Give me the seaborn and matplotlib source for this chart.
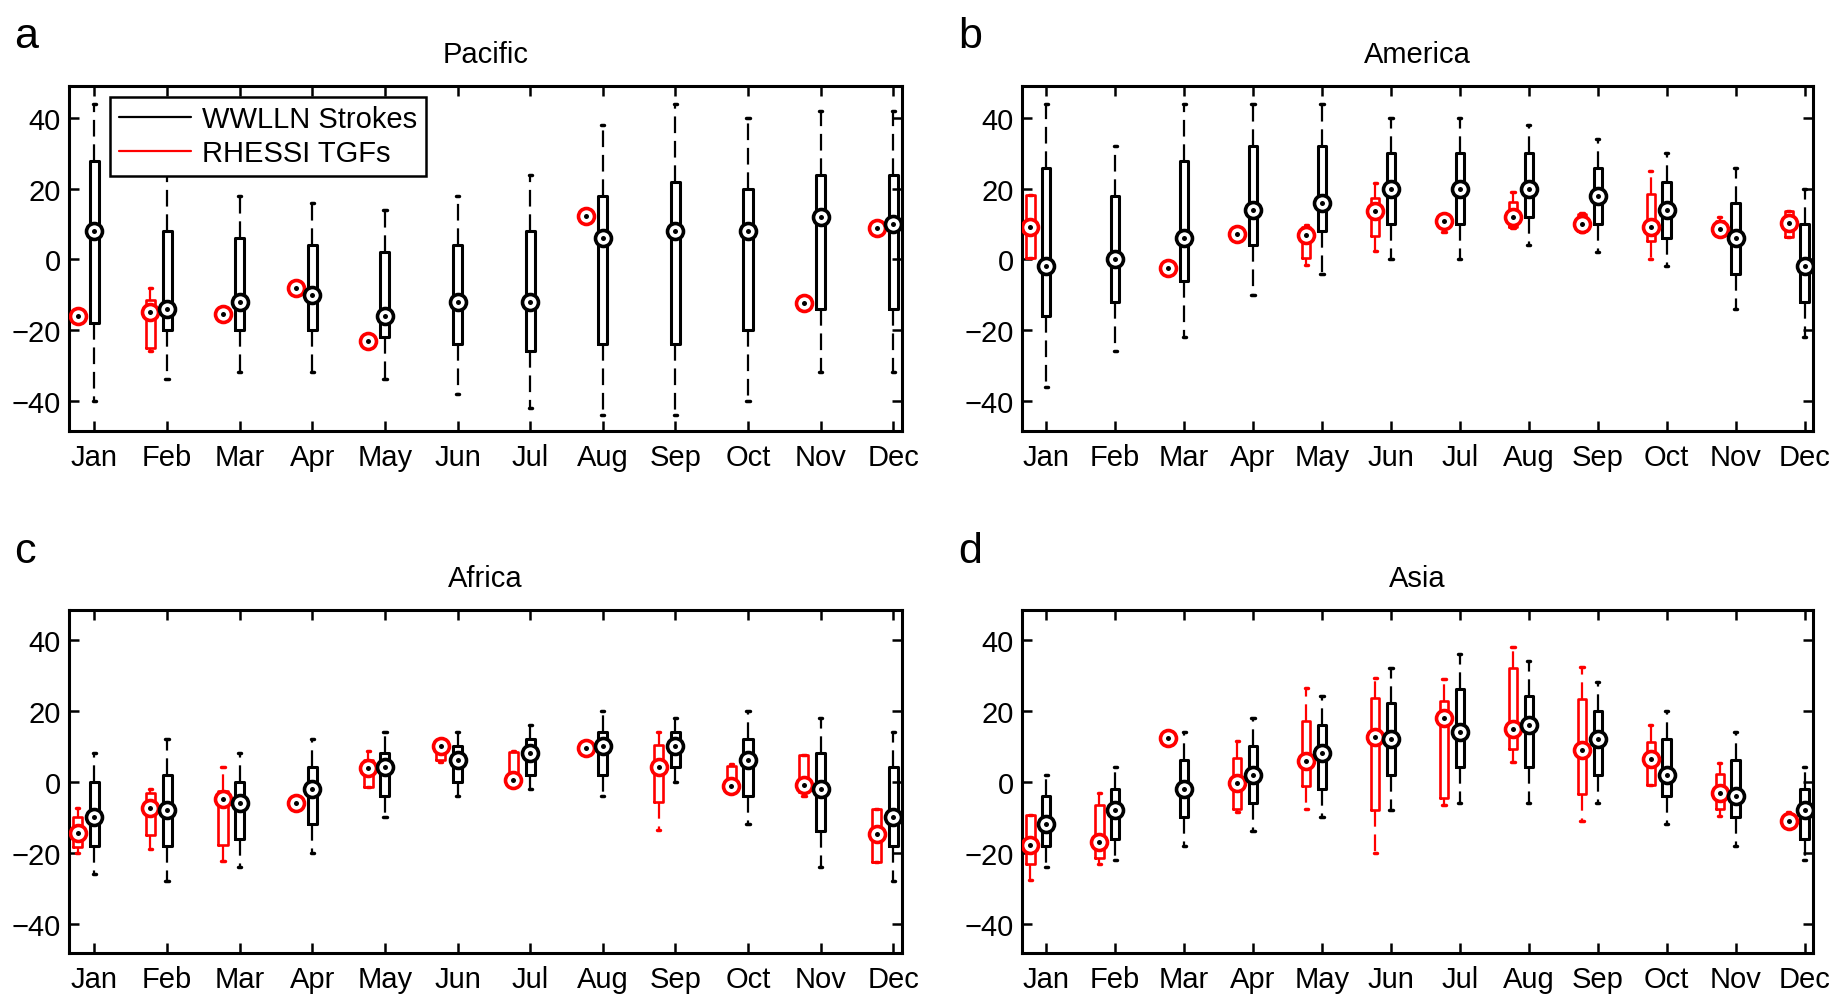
import numpy as np
import matplotlib
matplotlib.use("Agg")
import matplotlib.pyplot as plt
import seaborn as sns
from matplotlib.lines import Line2D

# ---------------- data ----------------
MONTHS = ["Jan", "Feb", "Mar", "Apr", "May", "Jun",
          "Jul", "Aug", "Sep", "Oct", "Nov", "Dec"]
REGIONS = ["Pacific", "America", "Africa", "Asia"]
PANEL_LETTERS = ["a", "b", "c", "d"]
YTICKS = [-40, -20, 0, 20, 40]
SERIES_NAMES = ["WWLLN Strokes", "RHESSI TGFs"]

# each entry: [lower whisker, Q1, median, Q3, upper whisker]; None = no data
PACIFIC_WWLLN = [[-40, -18, 8, 28, 44], [-34, -20, -14, 8, 28], [-32, -20, -12, 6, 18],
                 [-32, -20, -10, 4, 16], [-34, -22, -16, 2, 14], [-38, -24, -12, 4, 18],
                 [-42, -26, -12, 8, 24], [-44, -24, 6, 18, 38], [-44, -24, 8, 22, 44],
                 [-40, -20, 8, 20, 40], [-32, -14, 12, 24, 42], [-32, -14, 10, 24, 42]]
PACIFIC_TGF = [[-16, -16, -16, -16, -16], [-26, -25, -15, -11.5, -8],
               [-17.5, -17, -15.5, -14, -13.5], [-8, -8, -8, -8, -8],
               [-23, -23, -23, -23, -23], None, None, [12.3, 12.3, 12.3, 12.3, 12.3],
               None, None, [-12.3, -12.3, -12.3, -12.3, -12.3], [9, 9, 9, 9, 9]]

AMERICA_WWLLN = [[-36, -16, -2, 26, 44], [-26, -12, 0, 18, 32], [-22, -6, 6, 28, 44],
                 [-10, 4, 14, 32, 44], [-4, 8, 16, 32, 44], [0, 10, 20, 30, 40],
                 [0, 10, 20, 30, 40], [4, 12, 20, 30, 38], [2, 10, 18, 26, 34],
                 [-2, 6, 14, 22, 30], [-14, -4, 6, 16, 26], [-22, -12, -2, 10, 20]]
AMERICA_TGF = [[0.3, 0.3, 9.3, 18.2, 18.2], None, [-2.5, -2.5, -2.5, -2.5, -2.5],
               [7.2, 7.2, 7.2, 7.2, 7.2], [-1.6, 0.3, 6.9, 9.3, 9.7],
               [2.5, 6.6, 13.6, 17.4, 21.7], [7.8, 10.5, 11, 11.5, 11.8],
               [8.8, 9.3, 11.9, 16.2, 19], [7.8, 8, 10, 12.8, 13.2],
               [0, 5.2, 9.1, 18.4, 24.9], [7.8, 8.2, 8.7, 11, 11.9],
               [6.4, 6.4, 10.2, 13.8, 13.8]]

AFRICA_WWLLN = [[-26, -18, -10, 0, 8], [-28, -18, -8, 2, 12], [-24, -16, -6, 0, 8],
                [-20, -12, -2, 4, 12], [-10, -4, 4, 8, 14], [-4, 0, 6, 10, 14],
                [-2, 2, 8, 12, 16], [-4, 2, 10, 14, 20], [0, 4, 10, 14, 18],
                [-12, -4, 6, 12, 20], [-24, -14, -2, 8, 18], [-28, -18, -10, 4, 14]]
AFRICA_TGF = [[-20, -18.3, -14.5, -10, -7.4], [-19, -15, -7.4, -3.3, -2.2],
              [-22.4, -17.7, -5, -2.6, 4.1], [-6, -6, -6, -6, -6],
              [-1.4, -1.4, 3.9, 6, 8.7], [5.5, 6, 10, 10.5, 10.5],
              [0, 0.2, 0.5, 8.3, 8.5], [9.5, 9.5, 9.5, 9.5, 9.5],
              [-13.6, -5.8, 4.2, 10.2, 14], [-1.5, -1.1, -1.1, 4.3, 5],
              [-3.9, -3, -0.8, 7.4, 7.4], [-22.6, -22.6, -14.6, -7.7, -7.7]]

ASIA_WWLLN = [[-24, -18, -12, -4, 2], [-22, -16, -8, -2, 4], [-18, -10, -2, 6, 14],
              [-14, -6, 2, 10, 18], [-10, -2, 8, 16, 24], [-8, 2, 12, 22, 32],
              [-6, 4, 14, 26, 36], [-6, 4, 16, 24, 34], [-6, 2, 12, 20, 28],
              [-12, -4, 2, 12, 20], [-18, -10, -4, 6, 14], [-22, -16, -8, -2, 4]]
ASIA_TGF = [[-27.6, -23.3, -17.7, -9.5, -9.5], [-23.1, -21.5, -17, -6.7, -3.1],
            [12.2, 12.2, 12.2, 12.2, 12.2], [-8.4, -7.7, -0.3, 6.6, 11.4],
            [-7.6, -1.3, 5.9, 17.2, 26.3], [-20, -8, 12.7, 23.5, 29.3],
            [-6.7, -4.6, 17.8, 22.6, 29], [5.5, 9.1, 14.7, 32, 37.9],
            [-11, -3.4, 8.9, 23.3, 32.4], [-0.8, -0.8, 6.3, 11.2, 15.9],
            [-9.6, -7.6, -3.3, 2.3, 5.3], [-11.5, -11.3, -11.1, -10, -8.6]]

WWLLN = [PACIFIC_WWLLN, AMERICA_WWLLN, AFRICA_WWLLN, ASIA_WWLLN]
TGF = [PACIFIC_TGF, AMERICA_TGF, AFRICA_TGF, ASIA_TGF]

# ---------------- style ----------------
sns.set_theme(style="white", rc={
    "axes.edgecolor": "black", "text.color": "black",
    "xtick.color": "black", "ytick.color": "black",
    "axes.labelcolor": "black",
})
plt.rcParams["font.family"] = ["Liberation Sans", "DejaVu Sans"]

FIG_W, FIG_H = 1845, 995
fig = plt.figure(figsize=(FIG_W / 100, FIG_H / 100), dpi=100)

# axes rectangles in pixels: left, top, right, bottom
RECTS = [(69, 87, 902, 432), (1022, 87, 1813, 432),
         (69, 611, 902, 954), (1022, 611, 1813, 954)]
YLIMS = [(-48.6, 49.1), (-48.6, 49.1), (-48.2, 48.3), (-48.2, 48.3)]
LETTER_POS = [(14, 48), (958, 48), (14, 563), (958, 563)]

BLACK = "black"
RED = "#ff0000"
FS = 21


def draw_series(ax, stats_list, offset, color, box_lw):
    pos, st = [], []
    for m, s in enumerate(stats_list, start=1):
        if s is None:
            continue
        lo, q1, med, q3, hi = s
        st.append(dict(whislo=lo, q1=q1, med=med, q3=q3, whishi=hi, fliers=[]))
        pos.append(m + offset)
    ax.bxp(st, positions=pos, widths=0.125, capwidths=0.045, showfliers=False,
           manage_ticks=False,
           boxprops=dict(color=color, linewidth=box_lw),
           whiskerprops=dict(color=color, linewidth=1.6, linestyle=(0, (7.5, 3.5))),
           capprops=dict(color=color, linewidth=2.5),
           medianprops=dict(linewidth=0))
    meds = [d["med"] for d in st]
    ax.plot(pos, meds, linestyle="none", marker="o", ms=11.5, mfc="white",
            mec=color, mew=2.6, zorder=5)
    ax.plot(pos, meds, linestyle="none", marker="o", ms=3.6, color="black",
            mew=0, zorder=6)


for i, region in enumerate(REGIONS):
    l, t, r, b = RECTS[i]
    ax = fig.add_axes([l / FIG_W, 1 - b / FIG_H, (r - l) / FIG_W, (b - t) / FIG_H])
    draw_series(ax, TGF[i], -0.23, RED, 1.9)
    draw_series(ax, WWLLN[i], 0.0, BLACK, 2.2)

    ax.set_xlim(0.65, 12.12)
    ax.set_ylim(*YLIMS[i])
    ax.set_xticks(range(1, 13))
    ax.set_xticklabels(MONTHS)
    ax.set_yticks(YTICKS)
    ax.tick_params(direction="in", length=7, width=1.8, top=True, right=True,
                   bottom=True, left=True, labelsize=FS)
    ax.tick_params(axis="x", pad=9)
    ax.tick_params(axis="y", pad=6)
    for sp in ax.spines.values():
        sp.set_linewidth(2.2)
        sp.set_color("black")
    ax.set_title(region, fontsize=FS, pad=17)
    ax.grid(False)

    lx, ly = LETTER_POS[i]
    fig.text(lx / FIG_W, 1 - ly / FIG_H, PANEL_LETTERS[i], fontsize=31,
             va="baseline", ha="left")

    if i == 0:
        handles = [Line2D([], [], color=BLACK, lw=1.6),
                   Line2D([], [], color=RED, lw=1.6)]
        leg = ax.legend(handles, SERIES_NAMES, loc="upper left",
                        bbox_to_anchor=(0.049, 0.969), borderaxespad=0,
                        fontsize=FS, handlelength=2.5, handletextpad=0.35,
                        fancybox=False, framealpha=1, edgecolor="black",
                        borderpad=0.3, labelspacing=0.2)
        leg.get_frame().set_linewidth(1.8)
        leg.set_zorder(10)

fig.savefig("out.png", dpi=100)
